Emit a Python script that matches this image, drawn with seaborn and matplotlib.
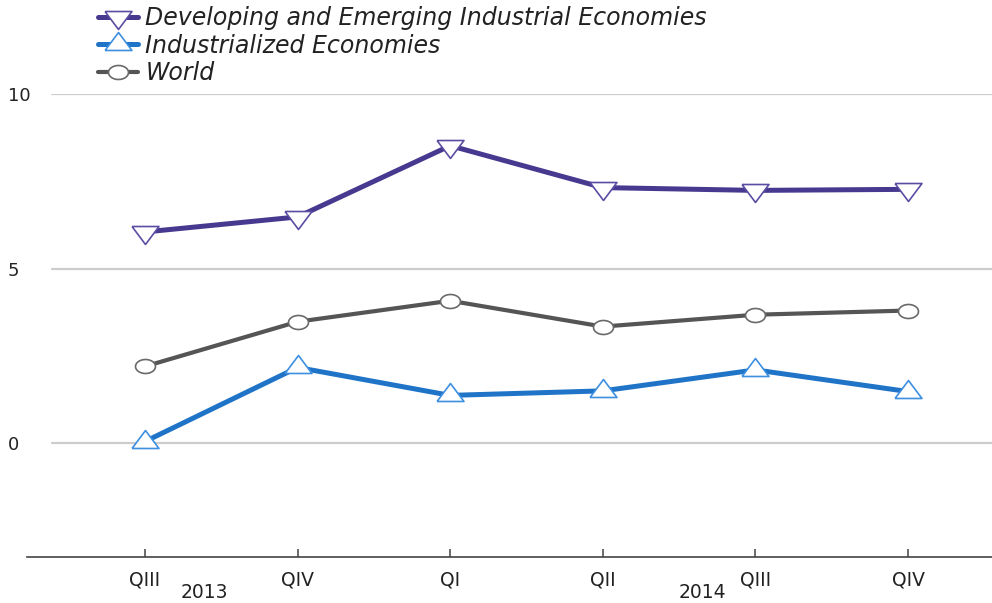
import numpy as np
import pandas as pd
import matplotlib
matplotlib.use("Agg")
import matplotlib.pyplot as plt
import matplotlib.transforms as mtransforms
import seaborn as sns

quarters = ["QIII", "QIV", "QI", "QII", "QIII", "QIV"]
years = ["2013", "2014"]
developing = [6.05, 6.48, 8.52, 7.32, 7.24, 7.27]
industrialized = [0.05, 2.17, 1.37, 1.50, 2.10, 1.48]
world = [2.20, 3.48, 4.08, 3.34, 3.68, 3.80]
series_names = ["Developing and Emerging Industrial Economies",
                "Industrialized Economies", "World"]
yticks = [0, 5, 10]

sns.set_theme(style="white")
plt.rcParams["font.family"] = ["DejaVu Sans"]

fig = plt.figure(figsize=(9.92, 6.03), dpi=100)
ax = fig.add_axes([27 / 992, 1 - 557 / 603, 1 - 27 / 992, 463 / 603])

x = np.arange(len(quarters))

# custom flattened markers (centroid at origin)
tri_down = [(-1, 0.444), (1, 0.444), (0, -0.889), (-1, 0.444)]
tri_up = [(-1, -0.444), (1, -0.444), (0, 0.889), (-1, -0.444)]
t = np.linspace(0, 2 * np.pi, 41)
ellipse = list(zip(np.cos(t), 0.7 * np.sin(t)))

styles = [
    dict(values=developing, color="#47398f", mec="#5a4ea3", marker=tri_down,
         ms=19.4, lw=3.6, z=5),
    dict(values=industrialized, color="#1f74c8", mec="#3d8fe0", marker=tri_up,
         ms=19.4, lw=3.6, z=4),
    dict(values=world, color="#555555", mec="#6a6a6a", marker=ellipse,
         ms=14.4, lw=3.0, z=3),
]

for name, st in zip(series_names, styles):
    df = pd.DataFrame({"x": x, "y": st["values"]})
    sns.lineplot(data=df, x="x", y="y", ax=ax, color=st["color"], lw=st["lw"],
                 marker=st["marker"], markersize=st["ms"], markerfacecolor="white",
                 markeredgecolor=st["mec"], markeredgewidth=1.2, label=name,
                 zorder=st["z"], legend=False, clip_on=False)

ax.set_xlim(-0.773, 5.55)
ax.set_ylim(-3.257, 10)

for yv in yticks:
    ax.axhline(yv, xmin=(52 - 27) / (992 - 27), xmax=1, color="#cccccc", lw=1.6,
               zorder=1)

ax.set_xticks(x)
ax.set_xticklabels(quarters, fontsize=13.5, color="#222222")
ax.set_yticks(yticks)
ax.set_yticklabels([str(v) for v in yticks], fontsize=13, color="#222222")
for lab in ax.get_yticklabels():
    lab.set_horizontalalignment("left")
ax.tick_params(axis="y", length=0, pad=14)
ax.tick_params(axis="x", direction="in", length=6, width=1.1, color="#444444",
               pad=10, bottom=True)

for s in ["top", "right", "left"]:
    ax.spines[s].set_visible(False)
ax.spines["bottom"].set_color("#444444")
ax.spines["bottom"].set_linewidth(1.2)
ax.set_xlabel("")
ax.set_ylabel("")

trans = mtransforms.blended_transform_factory(ax.transData, fig.transFigure)
year_pos = [0.39, 3.65]
for yr, xp in zip(years, year_pos):
    ax.text(xp, 1 / 603, yr, transform=trans, ha="center", va="bottom",
            fontsize=13.5, color="#222222")

handles, labels = ax.get_legend_handles_labels()
leg = fig.legend(handles, labels, loc="upper left",
                 bbox_to_anchor=(98 / 992, 1 - 6 / 603), frameon=False,
                 prop=dict(style="italic", size=17), handlelength=1.7,
                 handletextpad=0.3, labelspacing=0.15, borderaxespad=0,
                 borderpad=0)
for txt in leg.get_texts():
    txt.set_color("#222222")

fig.savefig("out.png", dpi=100)
